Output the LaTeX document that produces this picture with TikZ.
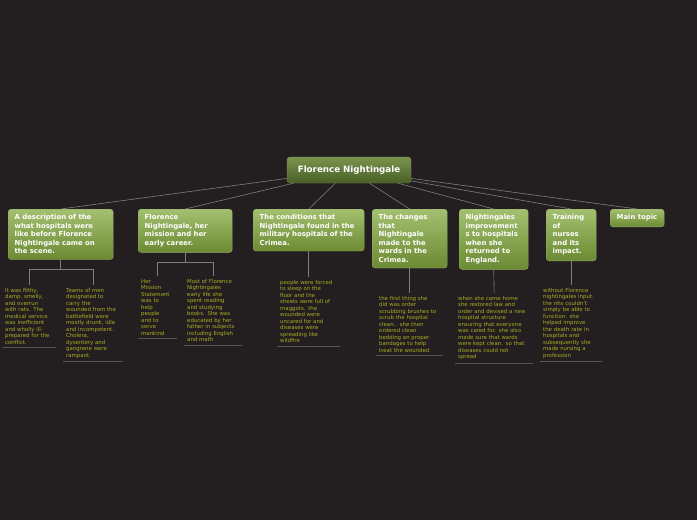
\documentclass[tikz,border=0pt]{standalone}
\usepackage{fontspec}
\setmainfont{DejaVu Sans}
\usepackage{xcolor}
\usetikzlibrary{positioning}

\definecolor{pagebg}{RGB}{35,31,32}
\definecolor{linkgray}{RGB}{125,125,125}
\definecolor{notegray}{RGB}{85,85,85}
\definecolor{noteolive}{RGB}{172,172,34}

\tikzset{
  topicbox/.style={anchor=north west, rounded corners=3pt,
    draw={rgb,255:red,150;green,175;blue,105}, line width=0.4pt,
    top color={rgb,255:red,163;green,192;blue,112},
    bottom color={rgb,255:red,108;green,138;blue,50},
    text=white, align=left, inner xsep=6.5pt, inner ysep=5.5pt,
    font=\bfseries\fontsize{6.9}{8.5}\selectfont},
  rootbox/.style={rounded corners=3pt,
    draw={rgb,255:red,120;green,140;blue,85}, line width=0.4pt,
    top color={rgb,255:red,122;green,148;blue,78},
    bottom color={rgb,255:red,72;green,95;blue,38},
    text=white, minimum width=124pt, minimum height=26pt,
    font=\bfseries\fontsize{8.7}{10}\selectfont},
  notetext/.style={anchor=north west, text=noteolive, align=left,
    inner xsep=3pt, inner ysep=3pt,
    font=\fontsize{5.4}{6.5}\selectfont},
  link/.style={draw=linkgray, line width=0.6pt},
  uline/.style={draw=notegray, line width=0.8pt}
}

\begin{document}
\begin{tikzpicture}[x=1pt,y=-1pt]
  \fill[pagebg] (0,0) rectangle (697,520);
  \useasboundingbox (0,0) rectangle (697,520);

  % central topic and main branches
  \node[rootbox] (root) at (349,170) {Florence Nightingale};
  \node[topicbox, text width=92pt] (b1) at (8,209)
    {A description of the\\ what hospitals were\\ like before Florence\\ Nightingale came on\\ the scene.};
  \node[topicbox, text width=81pt] (b2) at (138,209)
    {Florence\\ Nightingale, her\\ mission and her\\ early career.};
  \node[topicbox, text width=98pt] (b3) at (253,209)
    {The conditions that\\ Nightingale found in the\\ military hospitals of the\\ Crimea.};
  \node[topicbox, text width=62pt] (b4) at (372,209)
    {The changes\\ that\\ Nightingale\\ made to the\\ wards in the\\ Crimea.};
  \node[topicbox, text width=56pt] (b5) at (459,209)
    {Nightingales\\ improvement\\ s to hospitals\\ when she\\ returned to\\ England.};
  \node[topicbox, text width=37pt] (b6) at (546,209)
    {Training\\ of\\ nurses\\ and its\\ impact.};
  \node[topicbox, text width=41pt] (b7) at (610,209) {Main topic};

  \foreach \b in {b1,b2,b3,b4,b5,b6,b7}
    \draw[link] (root) -- (\b.north);

  % notes
  \node[notetext, text width=48pt] (n11) at (2,285)
    {It was filthy,\\ damp, smelly,\\ and overrun\\ with rats. The\\ medical service\\ was inefficient\\ and wholly ill-\\ prepared for the\\ conflict.};
  \node[notetext, text width=54pt] (n12) at (63,285)
    {Teams of men\\ designated to\\ carry the\\ wounded from the\\ battlefield were\\ mostly drunk, idle\\ and incompetent.\\ Cholera,\\ dysentery and\\ gangrene were\\ rampant.};
  \node[notetext, text width=33pt] (n21) at (138,276)
    {Her\\ Mission\\ Statement\\ was to\\ help\\ people\\ and to\\ serve\\ mankind};
  \node[notetext, text width=52pt] (n22) at (184,276)
    {Most of Florence\\ Nightingales\\ early life she\\ spent reading\\ and studying\\ books. She was\\ educated by her\\ father in subjects\\ including English\\ and math};
  \node[notetext, text width=57pt] (n31) at (277,277)
    {people were forced\\ to sleep on the\\ floor and the\\ sheets were full of\\ maggots. the\\ wounded were\\ uncared for and\\ diseases were\\ spreading like\\ wildfire};
  \node[notetext, text width=61pt] (n41) at (376,293)
    {the first thing she\\ did was order\\ scrubbing brushes to\\ scrub the hospital\\ clean.. she then\\ ordered clean\\ bedding an proper\\ bandages to help\\ treat the wounded};
  \node[notetext, text width=72pt] (n51) at (455,293)
    {when she came home\\ she restored law and\\ order and devised a new\\ hospital structure\\ ensuring that everyone\\ was cared for. she also\\ made sure that wards\\ were kept clean. so that\\ diseases could not\\ spread};
  \node[notetext, text width=56pt] (n61) at (540,285)
    {without Florence\\ nightingales input.\\ the nhs couldn't\\ simply be able to\\ function. she\\ helped improve\\ the death rate in\\ hospitals and\\ subsequently she\\ made nursing a\\ profession};

  \foreach \n in {n11,n12,n21,n22,n31,n41,n51,n61}
    \draw[uline] (\n.south west) -- (\n.south east);

  % sub branches
  \draw[link] (b1.south) -- ++(0,10) coordinate (j1);
  \draw[link] (j1) -| (n11.north);
  \draw[link] (j1) -| (n12.north);
  \draw[link] (b2.south) -- ++(0,10) coordinate (j2);
  \draw[link] (j2) -| (n21.north);
  \draw[link] (j2) -| (n22.north);
  \draw[link] (b3.south) -- (n31.north);
  \draw[link] (b4.south) -- (n41.north);
  \draw[link] (b5.south) -- (n51.north);
  \draw[link] (b6.south) -- (n61.north);
\end{tikzpicture}
\end{document}
